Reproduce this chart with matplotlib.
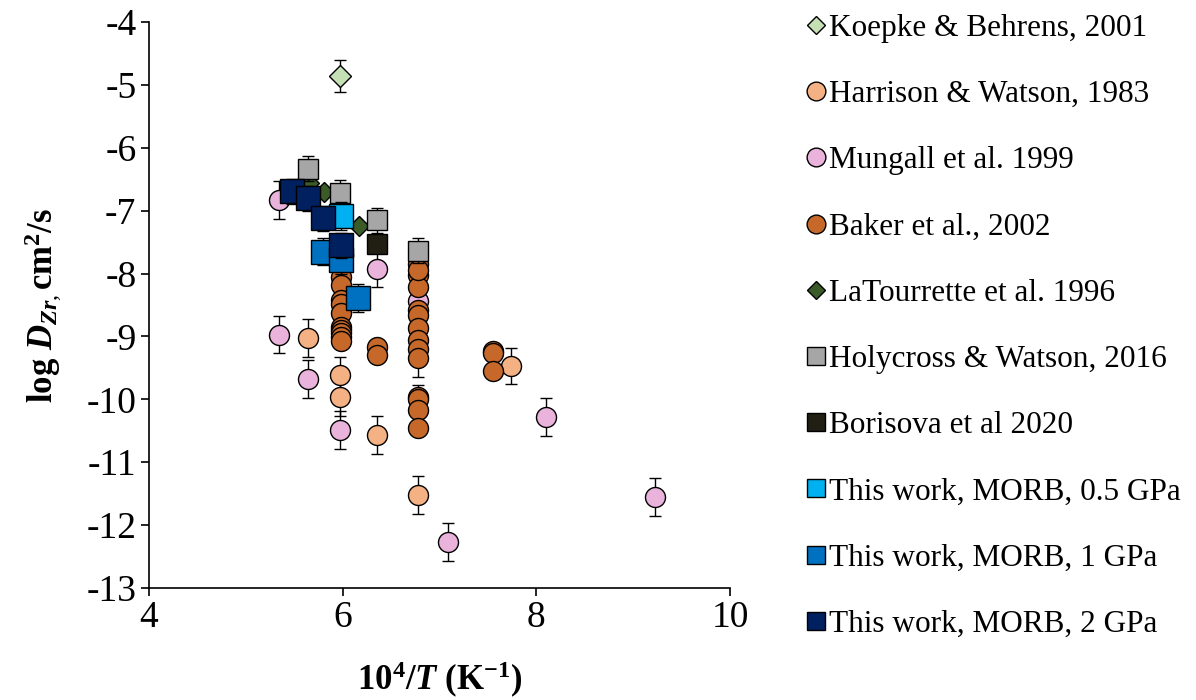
import matplotlib
matplotlib.use("Agg")
import matplotlib.pyplot as plt
from matplotlib.lines import Line2D

# ---- data: 10^4/T (K^-1) and log D_Zr (cm^2/s) ----
koepke_x = [5.97]
koepke_y = [-4.86]
koepke_err = [0.26]

harrison_x = [6.00, 5.64, 5.97, 5.97, 6.35, 6.78, 7.74]
harrison_y = [-7.70, -9.02, -9.62, -9.97, -10.57, -11.52, -9.47]
harrison_err = [0.30, 0.30, 0.30, 0.30, 0.30, 0.30, 0.28]

mungall_x = [5.34, 5.34, 5.64, 5.97, 6.35, 6.78, 8.10, 9.23, 7.09]
mungall_y = [-6.83, -8.97, -9.68, -10.49, -7.92, -8.44, -10.28, -11.55, -12.27]
mungall_err = [0.30] * 9

baker_x = [5.98] * 10 + [6.35] * 2 + [6.78] * 14 + [7.55] * 3
baker_y = [-8.05, -8.18, -8.42, -8.48, -8.63, -8.85, -8.90, -8.94, -9.01, -9.07,
           -9.17, -9.29,
           -7.85, -8.03, -8.22, -8.58, -8.66, -8.86, -9.06, -9.20, -9.34,
           -9.97, -10.00, -10.17, -10.45, -7.95,
           -9.23, -9.27, -9.55]
baker_err = [0.0] * 10 + [0.0] * 2 + [0.0] * 8 + [0.30, 0.20, 0.0, 0.0, 0.0, 0.0] + [0.0] * 3

latourrette_x = [5.65, 5.81, 6.17]
latourrette_y = [-6.56, -6.71, -7.24]

holycross_x = [5.64, 5.97, 6.35, 6.78]
holycross_y = [-6.33, -6.72, -7.15, -7.64]
holycross_err = [0.20] * 4

borisova_x = [6.35]
borisova_y = [-7.53]

morb05_x = [5.98]
morb05_y = [-7.08]
morb05_err = [0.22]

morb1_x = [5.80, 5.98, 6.16]
morb1_y = [-7.65, -7.79, -8.39]
morb1_err = [0.22] * 3

morb2_x = [5.48, 5.64, 5.80, 5.98]
morb2_y = [-6.69, -6.80, -7.12, -7.55]
morb2_err = [0.20] * 4

labels = ["Koepke & Behrens, 2001", "Harrison & Watson, 1983", "Mungall et al. 1999",
          "Baker et al., 2002", "LaTourrette et al. 1996", "Holycross & Watson, 2016",
          "Borisova et al 2020", "This work, MORB, 0.5 GPa", "This work, MORB, 1 GPa",
          "This work, MORB, 2 GPa"]

x_ticks = [4, 6, 8, 10]
y_ticks = [-13, -12, -11, -10, -9, -8, -7, -6, -5, -4]

# ---- style ----
plt.rcParams['font.family'] = ['Liberation Serif', 'DejaVu Serif']
plt.rcParams['mathtext.fontset'] = 'custom'
plt.rcParams['mathtext.rm'] = 'Liberation Serif'
plt.rcParams['mathtext.it'] = 'Liberation Serif:italic'
plt.rcParams['mathtext.bf'] = 'Liberation Serif:bold'
plt.rcParams['mathtext.bfit'] = 'Liberation Serif:bold:italic'
plt.rcParams['axes.unicode_minus'] = False

series = [
    # x, y, err, marker, face colour, marker size (pt), legend marker size (pt)
    (koepke_x, koepke_y, koepke_err, 'D', '#C5E0B4', 11.0, 9.0),
    (harrison_x, harrison_y, harrison_err, 'o', '#F4B183', 14.4, 13.5),
    (mungall_x, mungall_y, mungall_err, 'o', '#E9B3DB', 14.4, 13.5),
    (baker_x, baker_y, baker_err, 'o', '#C5682A', 14.4, 13.5),
    (latourrette_x, latourrette_y, None, 'D', '#3A5A27', 10.5, 9.0),
    (holycross_x, holycross_y, holycross_err, 's', '#A6A6A6', 14.2, 13.2),
    (borisova_x, borisova_y, None, 's', '#211F14', 14.2, 13.2),
    (morb05_x, morb05_y, morb05_err, 's', '#00B0F0', 17.0, 13.2),
    (morb1_x, morb1_y, morb1_err, 's', '#0070C0', 17.0, 13.2),
    (morb2_x, morb2_y, morb2_err, 's', '#002060', 17.0, 13.2),
]

fig = plt.figure(figsize=(11.96, 7.0), dpi=100)
ax = fig.add_axes([149 / 1196, 112 / 700, 581 / 1196, 566 / 700])

for i, (xs, ys, err, mk, fc, ms, _) in enumerate(series):
    ax.errorbar(xs, ys, yerr=err, fmt=mk, ms=ms, mfc=fc, mec='black', mew=1.0,
                ecolor='black', elinewidth=1.0, capsize=4.3, capthick=1.0,
                zorder=3 + i, clip_on=False)

ax.set_xlim(4, 10)
ax.set_ylim(-13, -4)
ax.set_xticks(x_ticks)
ax.set_yticks(y_ticks)
ax.tick_params(axis='both', direction='out', length=6, width=1.2,
               labelsize=27, pad=3, color='black')
for side in ('top', 'right'):
    ax.spines[side].set_visible(False)
for side in ('left', 'bottom'):
    ax.spines[side].set_linewidth(1.2)

ax.set_xlabel(r'10$^{\mathbf{4}}$/$\mathbfit{T}$ (K$^{\mathbf{-1}}$)',
              fontsize=25, fontweight='bold', labelpad=18)
ax.set_ylabel(r'log $\mathbfit{D}_{\mathbfit{Zr},}$cm$^{\mathbf{2}}$/s',
              fontsize=25, fontweight='bold', labelpad=16)

# legend column on the right
for i, (lab, s) in enumerate(zip(labels, series)):
    yf = 1 - (25 + i * 66.2) / 700
    mk, fc, lms = s[3], s[4], s[6]
    fig.add_artist(Line2D([816 / 1196], [yf], marker=mk, ms=lms, mfc=fc,
                          mec='black', mew=1.0, linestyle='none',
                          transform=fig.transFigure))
    fig.text(829 / 1196, yf, lab, fontsize=22.5, va='center_baseline', ha='left')

fig.savefig('out.png', dpi=100)
